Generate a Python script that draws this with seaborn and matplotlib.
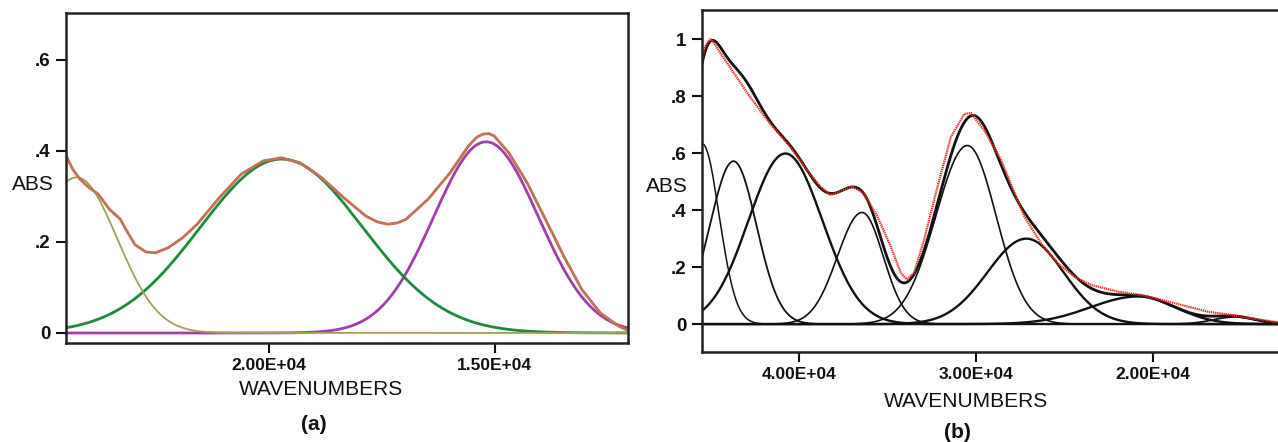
"""
Gaussian band decomposition of two absorption spectra, panels (a) and (b).
"""

import numpy as np
import matplotlib
matplotlib.use("Agg")
import matplotlib.pyplot as plt
import matplotlib.patheffects as pe
import seaborn as sns

wn_a = [24498, 24336, 24174, 23971, 23769, 23525, 23282, 23161, 22958, 22715,
        22512, 22229, 21905, 21581, 21094, 20608, 20122, 19717, 19311, 18826,
        18339, 17853, 17600, 17366, 17150, 16961, 16475, 15989, 15583, 15400,
        15259, 15130, 15016, 14692, 14287, 13882, 13477, 13072, 12666, 12261,
        12018]
abs_a = [0.393, 0.360, 0.338, 0.319, 0.305, 0.272, 0.250, 0.228, 0.194, 0.178,
         0.176, 0.187, 0.209, 0.239, 0.297, 0.349, 0.378, 0.385, 0.374, 0.341,
         0.297, 0.257, 0.244, 0.239, 0.242, 0.250, 0.294, 0.352, 0.411, 0.430,
         0.437, 0.438, 0.433, 0.396, 0.330, 0.250, 0.169, 0.095, 0.044, 0.015,
         0.004]

# panel (a) bands: centre, height, width on high-wn side, width on low-wn side
band_a_center = [24250, 19717, 15194]
band_a_height = [0.342, 0.382, 0.420]
band_a_sig_hi = [900, 1800, 1160]
band_a_sig_lo = [900, 1800, 1160]
band_a_color = ["#a3a052", "#1e8a3c", "#a23ea8"]
band_a_lw = [1.3, 2.0, 2.0]

# ---- panel (b): measured spectrum (red dots)
wn_b = [45467, 45300, 45014, 44919, 43880, 42747, 41614, 40480, 39535, 38780,
        38213, 37458, 36985, 36324, 35568, 34813, 34246, 33906, 33491, 32924,
        32169, 31413, 30657, 30280, 29524, 28579, 28013, 27260, 26315, 25371,
        24427, 23482, 21971, 20649, 18760, 16870, 15548, 14415, 12828]
abs_b = [0.930, 0.975, 1.000, 0.998, 0.901, 0.797, 0.703, 0.622, 0.541, 0.483,
         0.453, 0.471, 0.483, 0.459, 0.378, 0.273, 0.180, 0.157, 0.180, 0.297,
         0.483, 0.657, 0.738, 0.741, 0.680, 0.576, 0.490, 0.377, 0.283, 0.213,
         0.166, 0.137, 0.114, 0.102, 0.073, 0.043, 0.032, 0.020, 0.005]

# panel (b) bands (all black)
band_b_center = [45450, 43690, 40763, 36430, 30480, 27150, 20840, 15400]
band_b_height = [0.633, 0.572, 0.599, 0.392, 0.627, 0.300, 0.097, 0.025]
band_b_sig_hi = [950, 1330, 2080, 1390, 1780, 2200, 2700, 1200]
band_b_sig_lo = [950, 1300, 2100, 1200, 1620, 2100, 2100, 1200]
band_b_lw = [1.1, 1.3, 1.7, 1.2, 1.2, 1.7, 1.7, 1.3]

xlim_a = (24484, 12055)
ylim_a = (-0.022, 0.703)
xticks_a = [20000, 15000]
xtick_labels_a = ["2.00E+04", "1.50E+04"]
yticks_a = [0, 0.2, 0.4, 0.6]
ytick_labels_a = ["0", ".2", ".4", ".6"]

xlim_b = (45467, 12720)
ylim_b = (-0.097, 1.103)
xticks_b = [40000, 30000, 20000]
xtick_labels_b = ["4.00E+04", "3.00E+04", "2.00E+04"]
yticks_b = [0, 0.2, 0.4, 0.6, 0.8, 1.0]
ytick_labels_b = ["0", ".2", ".4", ".6", ".8", "1"]


def band(w, center, height, sig_hi, sig_lo):
    """Gaussian band with separate widths either side of the centre."""
    sig = np.where(w >= center, sig_hi, sig_lo)
    return height * np.exp(-0.5 * ((w - center) / sig) ** 2)


def style_axes(ax, xlim, ylim, xticks, xlabels, yticks, ylabels):
    ax.set_xlim(*xlim)
    ax.set_ylim(*ylim)
    ax.set_xticks(xticks)
    ax.set_xticklabels(xlabels, fontweight="bold")
    ax.set_yticks(yticks)
    ax.set_yticklabels(ylabels, fontweight="bold")
    ax.tick_params(direction="out", length=7, width=1.5, labelsize=12.5,
                   pad=4, colors="#111111")
    ax.tick_params(axis="y", labelsize=13.5)
    ax.set_xlabel("")
    ax.set_ylabel("")
    for sp in ax.spines.values():
        sp.set_linewidth(1.8)
        sp.set_color("#222222")


sns.set_theme(style="ticks")
plt.rcParams["font.family"] = ["Liberation Sans", "DejaVu Sans"]

fig = plt.figure(figsize=(12.78, 4.42), dpi=100)
ax_a = fig.add_axes([0.0516, 0.224, 0.4398, 0.7466])
ax_b = fig.add_axes([0.5493, 0.2043, 0.4538, 0.7731])

# ---- panel (a)
grid_a = np.linspace(xlim_a[1], xlim_a[0], 600)
order_a = [2, 1, 0]  # purple under olive along the baseline
for i in order_a:
    sns.lineplot(x=grid_a, y=band(grid_a, band_a_center[i], band_a_height[i],
                                  band_a_sig_hi[i], band_a_sig_lo[i]),
                 ax=ax_a, color=band_a_color[i], lw=band_a_lw[i])
sns.lineplot(x=wn_a, y=abs_a, ax=ax_a, color="#9a857a", lw=0.8,
             path_effects=[pe.Stroke(linewidth=2.0, foreground="#e2603a"),
                           pe.Normal()])
style_axes(ax_a, xlim_a, ylim_a, xticks_a, xtick_labels_a, yticks_a,
           ytick_labels_a)

ax_a.text(-0.059, 0.479, "ABS", transform=ax_a.transAxes, fontsize=15,
          ha="center", va="center", color="#111111")
ax_a.text(0.454, -0.142, "WAVENUMBERS", transform=ax_a.transAxes,
          fontsize=15, ha="center", va="center", color="#111111")
ax_a.text(0.441, -0.248, "(a)", transform=ax_a.transAxes, fontsize=15,
          fontweight="bold", ha="center", va="center", color="#111111")

# ---- panel (b)
grid_b = np.linspace(xlim_b[1], xlim_b[0], 800)
fit_b = np.zeros_like(grid_b)
for c, h, s1, s2, lw in zip(band_b_center, band_b_height, band_b_sig_hi,
                            band_b_sig_lo, band_b_lw):
    comp = band(grid_b, c, h, s1, s2)
    fit_b += comp
    sns.lineplot(x=grid_b, y=comp, ax=ax_b, color="#111111", lw=lw)
sns.lineplot(x=grid_b, y=fit_b, ax=ax_b, color="#111111", lw=2.0)
sns.lineplot(x=wn_b, y=abs_b, ax=ax_b, color="#ee2a1a", lw=1.6,
             linestyle=(0, (0.6, 0.35)))
style_axes(ax_b, xlim_b, ylim_b, xticks_b, xtick_labels_b, yticks_b,
           ytick_labels_b)
ax_b.spines["right"].set_visible(False)

ax_b.text(-0.0597, 0.482, "ABS", transform=ax_b.transAxes, fontsize=15,
          ha="center", va="center", color="#111111")
ax_b.text(0.455, -0.147, "WAVENUMBERS", transform=ax_b.transAxes,
          fontsize=15, ha="center", va="center", color="#111111")
ax_b.text(0.44, -0.235, "(b)", transform=ax_b.transAxes, fontsize=15,
          fontweight="bold", ha="center", va="center", color="#111111")

fig.savefig("out.png", dpi=100)
